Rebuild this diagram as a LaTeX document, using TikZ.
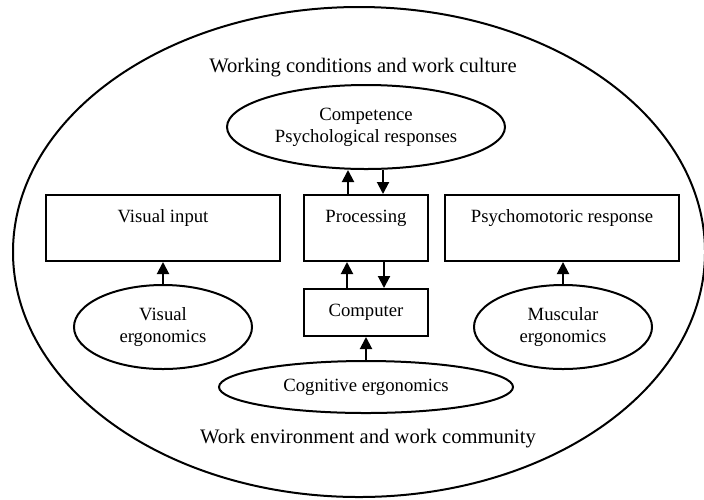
\documentclass[tikz,border=0pt]{standalone}
\usepackage{fontspec}
\setmainfont{Liberation Serif}
\usepackage{tikz}
\usetikzlibrary{shapes,arrows.meta,positioning}

\begin{document}
\begin{tikzpicture}[x=0.5pt, y=-0.5pt, line width=1pt,
    font=\fontsize{9.35}{10.85}\selectfont,
    box/.style={rectangle, draw, inner sep=0pt, minimum width=117pt, minimum height=33pt, text height=6.5pt, text depth=12.5pt},
    oval/.style={ellipse, draw, inner sep=0pt, align=center, minimum width=89pt, minimum height=42pt},
    caption/.style={font=\fontsize{10.3}{12}\selectfont},
    arr/.style={-{Triangle[length=6pt, width=6pt]}}
]
    \useasboundingbox (0,0) rectangle (704,499);

    % outer context
    \node[ellipse, draw, inner sep=0pt, minimum width=346pt, minimum height=245pt] (env) at (359,252) {};
    \node[caption] (wcc) at (363,68) {Working conditions and work culture};
    \node[caption] (wec) at (368,439) {Work environment and work community};

    % top row
    \node[box] (vis) at (163,228) {Visual input};
    \node[box, minimum width=62pt] (proc) at (366,228) {Processing};
    \node[box] (psy) at (562,228) {Psychomotoric response};

    % competence
    \node[oval, minimum width=139pt] (comp) at (366,127) {Competence\\Psychological responses};

    % computer and ergonomics
    \node[rectangle, draw, inner sep=0pt, minimum width=62pt, minimum height=23.5pt] (pc) at (366,312.5) {Computer};
    \node[oval] (vise) at (163,327) {Visual\\ergonomics};
    \node[oval] (muse) at (563,327) {Muscular\\ergonomics};
    \node[oval, minimum width=147pt, minimum height=26pt] (cog) at (366,387) {Cognitive ergonomics};

    % arrows
    \draw[arr] ([xshift=-9pt]proc.north) -- ([xshift=-9pt]comp.south);
    \draw[arr] ([xshift=8.5pt]comp.south) -- ([xshift=8.5pt]proc.north);
    \draw[arr] ([xshift=-9.5pt]pc.north) -- ([xshift=-9.5pt]proc.south);
    \draw[arr] ([xshift=9pt]proc.south) -- ([xshift=9pt]pc.north);
    \draw[arr] (cog.north) -- (pc.south);
    \draw[arr] (vise.north) -- (vise.north |- vis.south);
    \draw[arr] (muse.north) -- (muse.north |- psy.south);
\end{tikzpicture}
\end{document}
